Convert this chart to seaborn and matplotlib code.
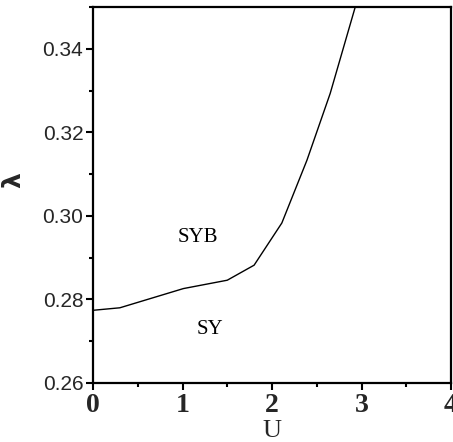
import matplotlib
matplotlib.use("Agg")
import matplotlib.pyplot as plt
import seaborn as sns
import pandas as pd
from matplotlib.ticker import MultipleLocator

# Phase boundary data
U_vals = [0.0, 0.30, 1.01, 1.50, 1.80, 2.11, 2.39, 2.65, 2.93]
lam_vals = [0.2774, 0.2780, 0.2826, 0.2846, 0.2882, 0.2983, 0.3133, 0.3293, 0.3500]
x_ticks = [0, 1, 2, 3, 4]
y_ticks = [0.26, 0.28, 0.30, 0.32, 0.34]
y_tick_labels = ["0.26", "0.28", "0.30", "0.32", "0.34"]
region_labels = ["SYB", "SY"]
region_U = [1.17, 1.31]
region_lam = [0.2949, 0.2727]

sns.set_theme(style="white")
plt.rcParams['font.family'] = ['DejaVu Sans']

df = pd.DataFrame({"U": U_vals, "lam": lam_vals})

fig = plt.figure(figsize=(4.53, 4.42), dpi=100)
ax = fig.add_axes([0.2053, 0.1335, 0.7903, 0.8507])

sns.lineplot(data=df, x="U", y="lam", sort=False, color="black", linewidth=1.0, ax=ax)

ax.set_xlim(0, 4)
ax.set_ylim(0.26, 0.35)
ax.set_xticks(x_ticks)
ax.set_yticks(y_ticks)
ax.xaxis.set_minor_locator(MultipleLocator(0.5))
ax.yaxis.set_minor_locator(MultipleLocator(0.01))
ax.set_yticklabels(y_tick_labels, fontfamily="Liberation Sans", fontsize=15)
ax.set_xticklabels([str(t) for t in x_ticks], fontfamily="Liberation Serif",
                   fontsize=20, fontweight="bold")

ax.tick_params(axis="both", which="major", direction="out", length=5, width=1.5,
               color="black", bottom=True, left=True, top=False, right=False, pad=2)
ax.tick_params(axis="both", which="minor", direction="out", length=3, width=1.5,
               color="black", bottom=True, left=True, top=False, right=False)

for s in ax.spines.values():
    s.set_visible(True)
    s.set_color("black")
    s.set_linewidth(1.6)

ax.set_xlabel("U", fontfamily="Liberation Serif", fontsize=19, labelpad=2)
ax.set_ylabel("λ", fontfamily="DejaVu Sans", fontsize=18, fontweight="bold", rotation=90)
ax.yaxis.set_label_coords(-0.19, 0.54)

for lab, u, l in zip(region_labels, region_U, region_lam):
    ax.text(u, l, lab, fontfamily="Liberation Serif", fontsize=15,
            ha="center", va="center", color="black")

fig.savefig("out.png", dpi=100)
